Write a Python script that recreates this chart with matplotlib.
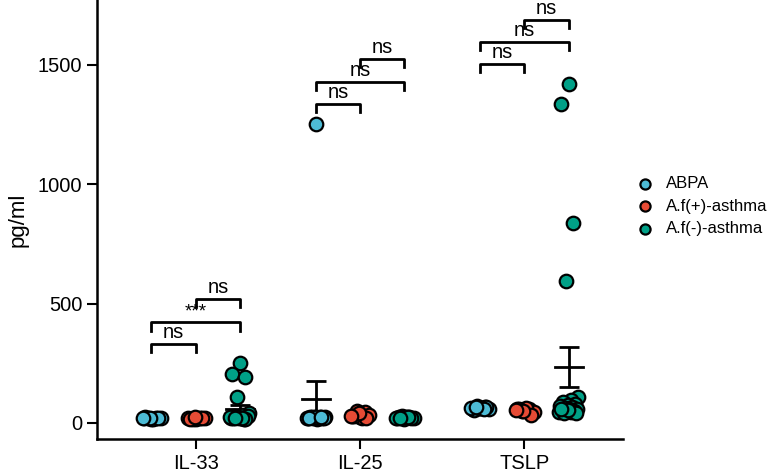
import numpy as np
import matplotlib
matplotlib.use("Agg")
import matplotlib.pyplot as plt

plt.rcParams['font.family'] = ['Liberation Sans', 'DejaVu Sans']

# cytokine panels and patient groups
cytokines = ['IL-33', 'IL-25', 'TSLP']
groups = ['ABPA', 'A.f(+)-asthma', 'A.f(-)-asthma']
colors = ['#4DBBD5', '#E64B35', '#00A087']

# pg/ml values
il33_abpa = [18, 20, 22, 19, 21, 17, 23, 20, 19, 21]
il33_afpos = [17, 20, 22, 18, 21, 19, 16, 20, 23]
il33_afneg = [250, 205, 192, 108, 40, 35, 30, 25, 22, 20, 18, 25, 30, 20, 22, 18, 24, 26, 21, 19]

il25_abpa = [1250, 22, 25, 20, 24, 18, 26, 21, 23, 19, 22, 25, 20, 24, 21, 23]
il25_afpos = [25, 30, 45, 50, 35, 20, 28, 22, 40, 30]
il25_afneg = [18, 22, 25, 28, 20, 24, 26, 19, 23, 21, 27, 22]

tslp_abpa = [62, 58, 66, 70, 60, 64, 55, 68, 61, 63, 57, 65]
tslp_afpos = [55, 58, 60, 52, 48, 62, 57, 35, 50, 54]
tslp_afneg = [1420, 1335, 838, 595, 110, 95, 88, 80, 75, 70, 66, 62, 60, 58, 55, 52, 50, 48, 45, 42, 40, 55, 60]

data = [
    [il33_abpa, il33_afpos, il33_afneg],
    [il25_abpa, il25_afpos, il25_afneg],
    [tslp_abpa, tslp_afpos, tslp_afneg],
]

# significance brackets: (cytokine, group a, group b, height, label)
brackets = [
    (0, 0, 1, 330, 'ns'), (0, 0, 2, 422, '***'), (0, 1, 2, 519, 'ns'),
    (1, 0, 1, 1335, 'ns'), (1, 0, 2, 1427, 'ns'), (1, 1, 2, 1523, 'ns'),
    (2, 0, 1, 1502, 'ns'), (2, 0, 2, 1594, 'ns'), (2, 1, 2, 1686, 'ns'),
]

fig = plt.figure(figsize=(7.74, 4.72), dpi=100)
ax = fig.add_axes([0.1253, 0.0699, 0.805 - 0.1253, 1 - 0.0699])

offset = 0.27
jit = 0.06
for ci, cyto in enumerate(data):
    for gi, vals in enumerate(cyto):
        vals = np.asarray(vals, dtype=float)
        xc = ci + (gi - 1) * offset
        n = len(vals)
        # deterministic spread (golden-ratio sequence)
        frac = (np.arange(n) * 0.618034 + 0.5) % 1.0
        xs = xc + jit * (frac * 2 - 1)
        ax.scatter(xs, vals, s=95, color=colors[gi], edgecolor='black',
                   linewidth=1.6, zorder=3,
                   label=groups[gi] if ci == 0 else None)
        m = vals.mean()
        sem = vals.std(ddof=1) / np.sqrt(n)
        ax.plot([xc - 0.085, xc + 0.085], [m, m], color='black', lw=2, zorder=2)
        ax.errorbar(xc, m, yerr=sem, color='black', lw=2, capsize=7,
                    capthick=2, zorder=2)

drop = 35
for ci, a, b, h, lab in brackets:
    x1 = ci + (a - 1) * offset
    x2 = ci + (b - 1) * offset
    ax.plot([x1, x1, x2, x2], [h - drop, h, h, h - drop], color='black',
            lw=2, zorder=4)
    ax.text((x1 + x2) / 2, h + 8, lab, ha='center', va='bottom',
            fontsize=14.5 if lab == 'ns' else 13.5, zorder=5)

ax.set_xlim(-0.6, 2.6)
ax.set_ylim(-67, 1770)
ax.set_xticks(range(len(cytokines)))
ax.set_xticklabels(cytokines)
ax.set_yticks([0, 500, 1000, 1500])
ax.set_ylabel('pg/ml', fontsize=16, labelpad=7)
ax.tick_params(labelsize=14.5, width=1.5, length=7)
for s in ['top', 'right']:
    ax.spines[s].set_visible(False)
for s in ['left', 'bottom']:
    ax.spines[s].set_linewidth(1.8)

ax.legend(loc='center left', bbox_to_anchor=(0.981, 0.53), frameon=False,
          fontsize=12, markerscale=0.75, handletextpad=0.3,
          labelspacing=0.45)

fig.savefig('out.png', dpi=100)
